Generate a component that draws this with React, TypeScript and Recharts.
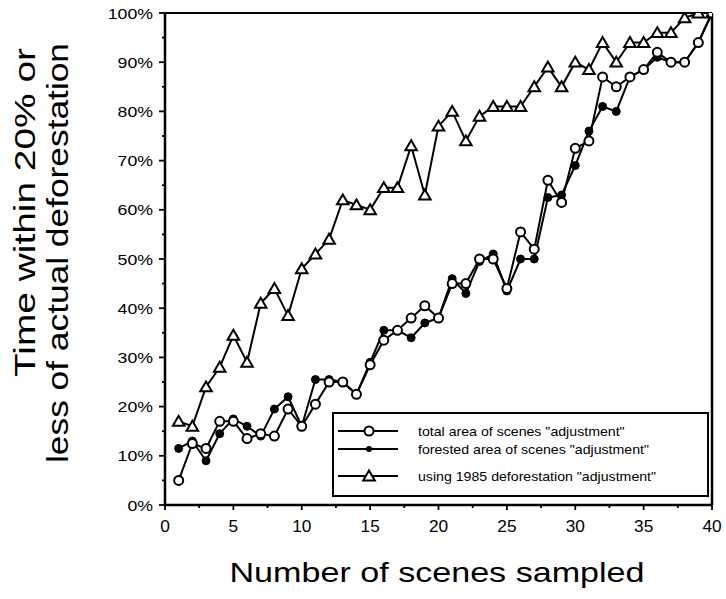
import React from "react";
import { LineChart, Line, XAxis, YAxis, ReferenceLine, Legend } from "recharts";

const scenes = [1, 2, 3, 4, 5, 6, 7, 8, 9, 10, 11, 12, 13, 14, 15, 16, 17, 18, 19, 20, 21, 22, 23, 24, 25, 26, 27, 28, 29, 30, 31, 32, 33, 34, 35, 36, 37, 38, 39, 40];
const totalArea = [5, 12.5, 11.5, 17, 17, 13.5, 14.5, 14, 19.5, 16, 20.5, 25, 25, 22.5, 28.5, 33.5, 35.5, 38, 40.5, 38, 45, 45, 50, 50, 44, 55.5, 52, 66, 61.5, 72.5, 74, 87, 85, 87, 88.5, 92, 90, 90, 94, 100];
const forestedArea = [11.5, 13, 9, 14.5, 17.5, 16, 14, 19.5, 22, 16, 25.5, 25.5, 25, 22.5, 29, 35.5, 35.5, 34, 37, 38, 46, 43, 49.5, 51, 43.5, 50, 50, 62.5, 63, 69, 76, 81, 80, 87, 88.5, 91, 90, 90, 94, 100];
const deforest1985 = [17, 16, 24, 28, 34.5, 29, 41, 44, 38.5, 48, 51, 54, 62, 61, 60, 64.5, 64.5, 73, 63, 77, 80, 74, 79, 81, 81, 81, 85, 89, 85, 90, 88.5, 94, 90, 94, 94, 96, 96, 99, 100, 100];
const xTicks = [0, 2.5, 5, 7.5, 10, 12.5, 15, 17.5, 20, 22.5, 25, 27.5, 30, 32.5, 35, 37.5, 40];
const yTicks = [0, 5, 10, 15, 20, 25, 30, 35, 40, 45, 50, 55, 60, 65, 70, 75, 80, 85, 90, 95, 100];
const seriesNames = [
  'total area of scenes "adjustment"',
  'forested area of scenes "adjustment"',
  'using 1985 deforestation "adjustment"',
];
const xTitle = "Number of scenes sampled";
const yTitle1 = "Time within 20% or";
const yTitle2 = "less of actual deforestation";

const data = scenes.map((s, i) => ({
  scene: s,
  total: totalArea[i],
  forested: forestedArea[i],
  d1985: deforest1985[i],
}));

const FONT = "'Liberation Sans', Arial, Helvetica, sans-serif";

const YTick = (props: any) => {
  const { x, y, payload } = props;
  const v = payload.value;
  const major = v % 10 === 0;
  return (
    <g transform={`translate(${x},${y})`}>
      <line x1={major ? -6 : -3} x2={0} y1={0} y2={0} stroke="#000" strokeWidth={1.8} />
      {major && (
        <text
          transform="scale(1.18,1)"
          x={-12 / 1.18}
          y={0}
          dy={5.5}
          textAnchor="end"
          fontSize={15}
          fontFamily={FONT}
          fill="#000"
        >
          {v}%
        </text>
      )}
    </g>
  );
};

const XTick = (props: any) => {
  const { x, y, payload } = props;
  const v = payload.value;
  const major = v % 5 === 0;
  return (
    <g transform={`translate(${x},${y})`}>
      <line x1={0} x2={0} y1={0} y2={major ? 5 : 3} stroke="#000" strokeWidth={1.8} />
      {major && (
        <text
          transform="scale(1.08,1)"
          x={0}
          y={27}
          textAnchor="middle"
          fontSize={16}
          fontFamily={FONT}
          fill="#000"
        >
          {v}
        </text>
      )}
    </g>
  );
};

const TriangleDot = (props: any) => {
  const { cx, cy, index } = props;
  if (cx == null || cy == null) return <g key={`t-${index}`} />;
  const s = 5.5;
  return (
    <polygon
      key={`t-${index}`}
      points={`${cx},${cy - s} ${cx - s * 1.05},${cy + s * 0.8} ${cx + s * 1.05},${cy + s * 0.8}`}
      fill="#fff"
      stroke="#000"
      strokeWidth={2}
    />
  );
};

const LegendBox = () => {
  const rows = [19, 37, 64];
  return (
    <svg width={377} height={85} style={{ display: "block" }}>
      <rect x={1} y={1} width={375} height={83} fill="#fff" stroke="#000" strokeWidth={2} />
      {rows.map((ry, i) => (
        <g key={i}>
          <line x1={6} x2={66} y1={ry} y2={ry} stroke="#000" strokeWidth={2} />
          {i === 0 && <circle cx={37} cy={ry} r={4.5} fill="#fff" stroke="#000" strokeWidth={2} />}
          {i === 1 && <circle cx={37} cy={ry} r={3} fill="#000" />}
          {i === 2 && (
            <polygon
              points={`${37},${ry - 5.5} ${37 - 5.8},${ry + 4.4} ${37 + 5.8},${ry + 4.4}`}
              fill="#fff"
              stroke="#000"
              strokeWidth={2}
            />
          )}
          <text
            transform={`translate(86,${ry + 4.5}) scale(1.18,1)`}
            fontSize={12}
            fontFamily={FONT}
            fill="#000"
          >
            {seriesNames[i]}
          </text>
        </g>
      ))}
    </svg>
  );
};

const XTitle = () => (
  <text
    x={437}
    y={582}
    textAnchor="middle"
    fontSize={28}
    fontFamily={FONT}
    fill="#000"
    textLength={415}
    lengthAdjust="spacingAndGlyphs"
  >
    {xTitle}
  </text>
);

const YTitle = () => (
  <g>
    <text
      transform="translate(35,377) rotate(-90)"
      textAnchor="start"
      fontSize={29}
      fontFamily={FONT}
      fill="#000"
      textLength={329}
      lengthAdjust="spacingAndGlyphs"
    >
      {yTitle1}
    </text>
    <text
      transform="translate(68,463) rotate(-90)"
      textAnchor="start"
      fontSize={29}
      fontFamily={FONT}
      fill="#000"
      textLength={420}
      lengthAdjust="spacingAndGlyphs"
    >
      {yTitle2}
    </text>
  </g>
);

export default function App() {
  return (
    <div style={{ position: "absolute", left: 0, top: 0, width: 726, height: 599, background: "#fff" }}>
      <LineChart
        width={726}
        height={599}
        data={data}
        margin={{ top: 13, right: 14, bottom: 0, left: 0 }}
      >
        <XAxis
          dataKey="scene"
          type="number"
          domain={[0, 40]}
          ticks={xTicks}
          interval={0}
          tickSize={0}
          tickMargin={0}
          tick={XTick}
          tickLine={false}
          axisLine={{ stroke: "#000", strokeWidth: 2.5 }}
          height={94}
          allowDataOverflow
          label={{ content: () => <XTitle /> }}
        />
        <YAxis
          type="number"
          domain={[0, 100]}
          ticks={yTicks}
          interval={0}
          tickSize={0}
          tickMargin={0}
          tick={YTick}
          tickLine={false}
          axisLine={{ stroke: "#000", strokeWidth: 2.5 }}
          width={165}
          allowDataOverflow
          label={{ content: () => <YTitle /> }}
        />
        <ReferenceLine y={100} stroke="#000" strokeWidth={2} />
        <ReferenceLine x={40} stroke="#000" strokeWidth={2.5} />
        <Legend
          layout="vertical"
          align="center"
          verticalAlign="middle"
          content={() => <LegendBox />}
          wrapperStyle={{ position: "absolute", left: 332, top: 412, width: 377, height: 85 }}
        />
        <Line
          dataKey="d1985"
          name={seriesNames[2]}
          stroke="#000"
          strokeWidth={2}
          dot={TriangleDot}
          activeDot={false}
          isAnimationActive={false}
          type="linear"
        />
        <Line
          dataKey="forested"
          name={seriesNames[1]}
          stroke="#000"
          strokeWidth={2}
          dot={{ r: 4, fill: "#000", stroke: "#000", strokeWidth: 1 }}
          activeDot={false}
          isAnimationActive={false}
          type="linear"
        />
        <Line
          dataKey="total"
          name={seriesNames[0]}
          stroke="#000"
          strokeWidth={2}
          dot={{ r: 4.5, fill: "#fff", stroke: "#000", strokeWidth: 2 }}
          activeDot={false}
          isAnimationActive={false}
          type="linear"
        />
      </LineChart>
    </div>
  );
}
